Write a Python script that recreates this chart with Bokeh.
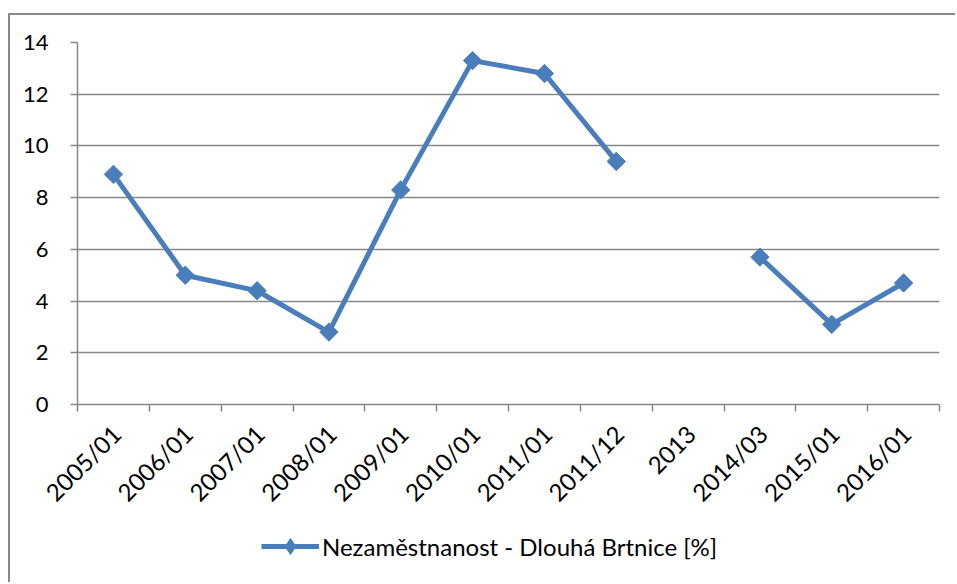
import math
from bokeh.plotting import figure
from bokeh.layouts import column
from bokeh.models import FixedTicker, Legend, LegendItem, Range1d
from bokeh.embed import file_html
from bokeh.resources import INLINE

categories = ["2005/01", "2006/01", "2007/01", "2008/01", "2009/01", "2010/01",
              "2011/01", "2011/12", "2013", "2014/03", "2015/01", "2016/01"]
values = [8.9, 5.0, 4.4, 2.8, 8.3, 13.3, 12.8, 9.4, float("nan"), 5.7, 3.1, 4.7]
y_ticks = [0, 2, 4, 6, 8, 10, 12, 14]
series_name = "Nezaměstnanost - Dlouhá Brtnice [%]"

BLUE = "#4a7ebb"
GRID = "#868686"
BORDER = "#898989"
FONT = "Lato"

xs = [i + 0.5 for i in range(len(categories))]

p = figure(width=947, height=505, output_backend="svg", toolbar_location=None,
           x_range=Range1d(0, len(categories)), y_range=Range1d(0, 14),
           min_border_left=67, min_border_right=18, min_border_top=27,
           min_border_bottom=116)
p.stylesheets = [":host { margin-left: 8px; margin-top: 13px; "
                 "border-top: 2px solid #898989; border-left: 2px solid #898989; }"]
p.outline_line_color = None
p.background_fill_color = "white"
p.border_fill_color = "white"

ln = p.line(xs, values, line_color=BLUE, line_width=5)
sc = p.scatter(xs, values, marker="square", angle=math.pi / 4, size=13,
               fill_color=BLUE, line_color=BLUE)

# x axis: ticks on category boundaries (minor), labels at categories
label_pos = [x + 0.04 for x in xs]
p.xaxis.ticker = FixedTicker(ticks=label_pos, minor_ticks=list(range(len(categories) + 1)))
p.xaxis.major_label_overrides = {lp: c for lp, c in zip(label_pos, categories)}
p.xaxis.major_tick_line_color = None
p.xaxis.minor_tick_line_color = GRID
p.xaxis.minor_tick_line_width = 1.5
p.xaxis.minor_tick_out = 7
p.xaxis.minor_tick_in = 0
p.xaxis.major_label_orientation = math.pi / 4
p.xaxis.major_label_standoff = 18
p.xaxis.axis_line_color = GRID
p.xaxis.axis_line_width = 1.5
p.xaxis.major_label_text_font_size = "24px"
p.xgrid.grid_line_color = None

p.yaxis.ticker = FixedTicker(ticks=y_ticks, minor_ticks=[])
p.yaxis.major_tick_line_color = GRID
p.yaxis.major_tick_line_width = 1.5
p.yaxis.major_tick_out = 7
p.yaxis.major_tick_in = 0
p.yaxis.major_label_standoff = 22
p.yaxis.axis_line_color = GRID
p.yaxis.axis_line_width = 1.5
p.yaxis.major_label_text_font_size = "22px"
p.ygrid.grid_line_color = GRID
p.ygrid.grid_line_width = 1.5
p.ygrid.ticker = FixedTicker(ticks=y_ticks)

for ax in (p.xaxis, p.yaxis):
    ax.major_label_text_font = FONT
    ax.major_label_text_color = "black"

# legend strip below the chart (its series sits outside the strip's view)
pl = figure(width=947, height=64, output_backend="svg", toolbar_location=None,
            x_range=Range1d(-20, -10), y_range=Range1d(0, 1),
            min_border=0)
pl.stylesheets = [":host { margin-left: 8px; border-left: 2px solid #898989; }"]
pl.axis.visible = False
pl.grid.visible = False
pl.outline_line_color = None
lg_line = pl.line(xs, values, line_color=BLUE, line_width=5)
lg_mark = pl.scatter(xs, values, marker="diamond", size=18,
                     fill_color=BLUE, line_color=BLUE)
legend = Legend(items=[LegendItem(label=series_name, renderers=[lg_line, lg_mark], index=0)],
                location=(184, 16), orientation="horizontal",
                glyph_width=58, glyph_height=40, label_standoff=3,
                padding=0, margin=0, border_line_color=None,
                background_fill_alpha=0,
                label_text_font=FONT, label_text_font_size="24px",
                label_text_color="black")
pl.add_layout(legend, "center")

layout = column(p, pl, spacing=0)
open("out.html", "w").write(file_html(layout, INLINE))
